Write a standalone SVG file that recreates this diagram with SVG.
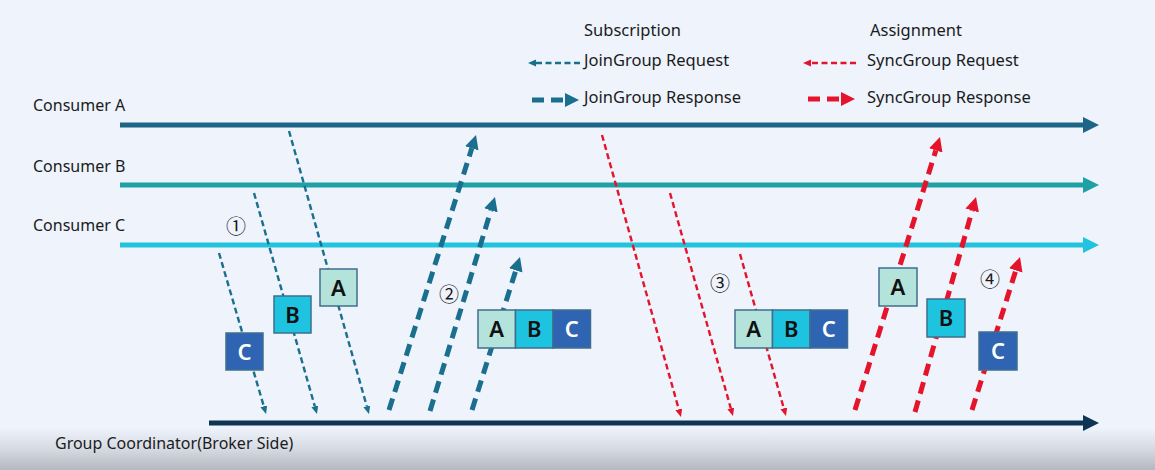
<svg xmlns="http://www.w3.org/2000/svg" width="1155" height="470" viewBox="0 0 1155 470">
<defs>
  <linearGradient id="bg" x1="0" y1="0" x2="0" y2="1">
    <stop offset="0" stop-color="#eef3fc"/>
    <stop offset="0.91" stop-color="#eef3fc"/>
    <stop offset="0.955" stop-color="#d6dae2"/>
    <stop offset="1" stop-color="#b4b8c1"/>
  </linearGradient>
  <marker id="hA" markerUnits="userSpaceOnUse" markerWidth="18" markerHeight="18" refX="0" refY="8" orient="auto"><path d="M0,0 L16,8 L0,16 Z" fill="#1d6587"/></marker>
  <marker id="hB" markerUnits="userSpaceOnUse" markerWidth="18" markerHeight="18" refX="0" refY="8" orient="auto"><path d="M0,0 L16,8 L0,16 Z" fill="#1fa0a5"/></marker>
  <marker id="hC" markerUnits="userSpaceOnUse" markerWidth="18" markerHeight="18" refX="0" refY="8" orient="auto"><path d="M0,0 L16,8 L0,16 Z" fill="#22c3de"/></marker>
  <marker id="hG" markerUnits="userSpaceOnUse" markerWidth="18" markerHeight="18" refX="0" refY="8" orient="auto"><path d="M0,0 L16,8 L0,16 Z" fill="#0e3553"/></marker>
  <marker id="tReq" markerUnits="userSpaceOnUse" markerWidth="10" markerHeight="10" refX="0" refY="3.5" orient="auto"><path d="M0,0 L8,3.5 L0,7 Z" fill="#1a6f8f"/></marker>
  <marker id="tRes" markerUnits="userSpaceOnUse" markerWidth="16" markerHeight="16" refX="0" refY="7" orient="auto"><path d="M0,0 L14,7 L0,14 Z" fill="#1a6f8f"/></marker>
  <marker id="rReq" markerUnits="userSpaceOnUse" markerWidth="10" markerHeight="10" refX="0" refY="3.5" orient="auto"><path d="M0,0 L8,3.5 L0,7 Z" fill="#e5142b"/></marker>
  <marker id="rRes" markerUnits="userSpaceOnUse" markerWidth="16" markerHeight="16" refX="0" refY="7" orient="auto"><path d="M0,0 L14,7 L0,14 Z" fill="#e5142b"/></marker>
</defs>
<style>
  .lbl { font-family: "Noto Sans", "Liberation Sans", sans-serif; font-size: 16px; fill: #1b1b1b; }
  .leg { font-family: "Noto Sans", "Liberation Sans", sans-serif; font-size: 16.5px; fill: #1b1b1b; }
  .num { font-family: "Noto Sans CJK KR", "DejaVu Sans", sans-serif; font-size: 20px; fill: #1b1b1b; }
  .tl { fill: none; stroke-width: 5; }
  .treq { fill: none; stroke: #1a6f8f; stroke-width: 2.4; stroke-dasharray: 6 3.5; }
  .tres { fill: none; stroke: #1a6f8f; stroke-width: 5; stroke-dasharray: 12 7; }
  .rreq { fill: none; stroke: #e5142b; stroke-width: 2.4; stroke-dasharray: 6 3.5; }
  .rres { fill: none; stroke: #e5142b; stroke-width: 5; stroke-dasharray: 12 7; }
  .bx { stroke: #3f6f8f; stroke-width: 1.5; }
  .bA { fill: #b4e3dc; }
  .bB { fill: #1ec3e0; }
  .bC { fill: #2f64b3; }
  .bt { font-family: "Noto Sans", "Liberation Sans", sans-serif; font-size: 22px; font-weight: 600; text-anchor: middle; fill: #111; }
  .btw { fill: #ffffff; }
</style>
<rect x="0" y="0" width="1155" height="470" fill="url(#bg)"/>

<g id="legend">
  <text class="leg" x="584" y="36">Subscription</text>
  <text class="leg" x="870" y="36">Assignment</text>
  <text class="leg" x="584" y="66">JoinGroup Request</text>
  <text class="leg" x="584" y="103">JoinGroup Response</text>
  <text class="leg" x="867" y="66">SyncGroup Request</text>
  <text class="leg" x="867" y="103">SyncGroup Response</text>
</g>

<g id="timelines">
  <g id="consumerA">
    <text class="lbl" x="33" y="111">Consumer A</text>
    <line class="tl" x1="120" y1="125" x2="1083" y2="125" stroke="#1d6587" marker-end="url(#hA)"/>
  </g>
  <g id="consumerB">
    <text class="lbl" x="33" y="172">Consumer B</text>
    <line class="tl" x1="120" y1="185" x2="1083" y2="185" stroke="#1fa0a5" marker-end="url(#hB)"/>
  </g>
  <g id="consumerC">
    <text class="lbl" x="33" y="231">Consumer C</text>
    <line class="tl" x1="120" y1="245" x2="1083" y2="245" stroke="#22c3de" marker-end="url(#hC)"/>
  </g>
  <g id="coordinator">
    <text class="lbl" x="55" y="449">Group Coordinator(Broker Side)</text>
    <line class="tl" x1="209" y1="423" x2="1083" y2="423" stroke="#0e3553" marker-end="url(#hG)"/>
  </g>
</g>

<g id="connectors">
  <!-- legend arrows -->
  <line class="treq" x1="580" y1="63" x2="536" y2="63" marker-end="url(#tReq)"/>
  <line class="tres" x1="532" y1="100" x2="565" y2="100" marker-end="url(#tRes)"/>
  <line class="rreq" x1="856" y1="63" x2="811" y2="63" marker-end="url(#rReq)"/>
  <line class="rres" x1="808" y1="99" x2="841" y2="99" marker-end="url(#rRes)"/>

  <!-- phase 1: JoinGroup requests -->
  <line class="treq" x1="289" y1="131" x2="366.8" y2="406.3" marker-end="url(#tReq)"/>
  <line class="treq" x1="254" y1="193" x2="314.8" y2="406.3" marker-end="url(#tReq)"/>
  <line class="treq" x1="219" y1="253" x2="263.8" y2="406.3" marker-end="url(#tReq)"/>

  <!-- phase 2: JoinGroup responses -->
  <line class="tres" x1="389" y1="410" x2="471.8" y2="148.3" marker-end="url(#tRes)"/>
  <line class="tres" x1="430" y1="411" x2="490.9" y2="210.4" marker-end="url(#tRes)"/>
  <line class="tres" x1="472" y1="410" x2="515.8" y2="270.4" marker-end="url(#tRes)"/>

  <!-- phase 3: SyncGroup requests -->
  <line class="rreq" x1="602" y1="135" x2="678.8" y2="409.3" marker-end="url(#rReq)"/>
  <line class="rreq" x1="670" y1="193" x2="730.8" y2="408.3" marker-end="url(#rReq)"/>
  <line class="rreq" x1="740" y1="254" x2="783.8" y2="408.3" marker-end="url(#rReq)"/>

  <!-- phase 4: SyncGroup responses -->
  <line class="rres" x1="855" y1="410" x2="935.8" y2="150.4" marker-end="url(#rRes)"/>
  <line class="rres" x1="915" y1="412" x2="972.2" y2="210.5" marker-end="url(#rRes)"/>
  <line class="rres" x1="972" y1="410" x2="1015.8" y2="270.4" marker-end="url(#rRes)"/>
</g>

<g id="step1">
  <text class="num" x="226" y="234">①</text>
  <g id="p1-A"><rect class="bx bA" x="320" y="269" width="37" height="37"/><text class="bt" x="338.5" y="295.5">A</text></g>
  <g id="p1-B"><rect class="bx bB" x="274" y="296" width="37" height="37"/><text class="bt" x="292.5" y="322.5">B</text></g>
  <g id="p1-C"><rect class="bx bC" x="226" y="333" width="37" height="37"/><text class="bt btw" x="244.5" y="359.5">C</text></g>
</g>

<g id="step2">
  <text class="num" x="439" y="302">②</text>
  <g id="p2-ABC">
    <rect class="bx bA" x="478" y="310" width="37.5" height="38"/>
    <rect class="bx bB" x="515.5" y="310" width="37.5" height="38"/>
    <rect class="bx bC" x="553" y="310" width="37.5" height="38"/>
    <text class="bt" x="496.7" y="337">A</text>
    <text class="bt" x="534.2" y="337">B</text>
    <text class="bt btw" x="571.7" y="337">C</text>
  </g>
</g>

<g id="step3">
  <text class="num" x="710" y="291">③</text>
  <g id="p3-ABC">
    <rect class="bx bA" x="735" y="310" width="37.5" height="38"/>
    <rect class="bx bB" x="772.5" y="310" width="37.5" height="38"/>
    <rect class="bx bC" x="810" y="310" width="37.5" height="38"/>
    <text class="bt" x="753.7" y="337">A</text>
    <text class="bt" x="791.2" y="337">B</text>
    <text class="bt btw" x="828.7" y="337">C</text>
  </g>
</g>

<g id="step4">
  <text class="num" x="980" y="287">④</text>
  <g id="p4-A"><rect class="bx bA" x="879" y="268" width="38" height="38"/><text class="bt" x="898" y="295">A</text></g>
  <g id="p4-B"><rect class="bx bB" x="927" y="299" width="38" height="38"/><text class="bt" x="946" y="326">B</text></g>
  <g id="p4-C"><rect class="bx bC" x="979" y="332" width="38" height="38"/><text class="bt btw" x="998" y="359">C</text></g>
</g>
</svg>
